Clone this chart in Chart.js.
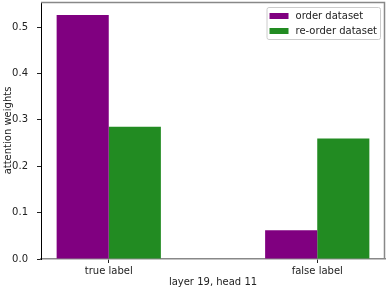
<!DOCTYPE html>
<html>
<head>
<meta charset="utf-8">
<script src="https://cdn.jsdelivr.net/npm/chart.js@4/dist/chart.umd.min.js"></script>
<style>
  html, body { margin: 0; padding: 0; background: #fff; }
  #wrap { width: 391px; height: 288px; }
</style>
</head>
<body>
<div id="wrap"><canvas id="attention_barchart"></canvas></div>
<script>
// data
const categories = ['true label', 'false label'];
const seriesNames = ['order dataset', 're-order dataset'];
const orderValues = [0.526, 0.062];
const reorderValues = [0.285, 0.260];
const yTicks = [0.0, 0.1, 0.2, 0.3, 0.4, 0.5];

const FONT = 'DejaVu Sans';

// box round the plot + legend like matplotlib
const framePlugin = {
  id: 'frame',
  afterDraw(chart) {
    const ctx = chart.ctx;
    const a = chart.chartArea;
    ctx.save();
    ctx.strokeStyle = '#888';
    ctx.lineWidth = 1.5;
    ctx.beginPath();
    ctx.moveTo(a.left, a.top + 0.5);
    ctx.lineTo(a.right - 0.5, a.top + 0.5);
    ctx.lineTo(a.right - 0.5, a.bottom);
    ctx.stroke();

    // legend
    ctx.font = '10px "' + FONT + '"';
    const items = chart.data.datasets.map(d => ({ label: d.label, color: d.backgroundColor }));
    const textW = Math.max(...items.map(it => ctx.measureText(it.label).width));
    const w = 3 + 19 + 7 + textW + 3;
    const h = 32;
    const x0 = a.right - 5 - w;
    const y0 = a.top + 5;
    ctx.fillStyle = 'rgba(255,255,255,0.8)';
    ctx.strokeStyle = '#ccc';
    ctx.lineWidth = 1;
    ctx.beginPath();
    ctx.roundRect(x0 + 0.5, y0 + 0.5, w, h, 2);
    ctx.fill();
    ctx.stroke();
    ctx.textBaseline = 'middle';
    items.forEach((it, i) => {
      const cy = y0 + 9 + i * 15;
      ctx.fillStyle = it.color;
      ctx.fillRect(x0 + 3, cy - 3, 19, 6);
      ctx.fillStyle = '#222';
      ctx.fillText(it.label, x0 + 29, cy);
    });
    ctx.restore();
  }
};

function attention_barchart() {
  const colors = ['#800080', '#228B22'];
  const series = [orderValues, reorderValues];

  const barChartData = {
    datasets: seriesNames.map((name, s) => ({
      label: name,
      data: categories.map((c, i) => ({ x: i, y: series[s][i] })),
      backgroundColor: colors[s],
      borderWidth: 0,
      categoryPercentage: 0.5,
      barPercentage: 1.0
    }))
  };

  const barChartOptions = {
    responsive: true,
    maintainAspectRatio: false,
    animation: false,
    layout: { padding: { left: 0, right: 6, top: 2, bottom: 0 } },
    plugins: {
      legend: { display: false },
      tooltip: { enabled: false }
    },
    scales: {
      x: {
        type: 'linear',
        offset: false,
        min: -0.325,
        max: 1.325,
        afterBuildTicks: (scale) => { scale.ticks = categories.map((c, i) => ({ value: i })); },
        afterFit: (scale) => {
          scale.height = 29;
          scale.paddingLeft = 0;
          scale.paddingRight = 0;
        },
        ticks: {
          callback: (v) => categories[v],
          color: '#222',
          font: { family: FONT, size: 10 },
          padding: 2,
          maxRotation: 0
        },
        grid: { offset: false, drawOnChartArea: false, drawTicks: true, tickLength: 4, color: '#222' },
        border: { color: '#888', width: 1.5 },
        title: {
          display: true,
          text: 'layer 19, head 11',
          color: '#222',
          font: { family: FONT, size: 10 },
          padding: { top: 0, bottom: 0 }
        }
      },
      y: {
        min: 0,
        max: 0.554,
        afterBuildTicks: (scale) => { scale.ticks = yTicks.map(v => ({ value: v })); },
        afterFit: (scale) => {
          scale.width = 41;
          scale.paddingTop = 0;
          scale.paddingBottom = 0;
        },
        ticks: {
          callback: (v) => v.toFixed(1),
          color: '#222',
          font: { family: FONT, size: 10 },
          padding: 9
        },
        grid: { drawOnChartArea: false, drawTicks: true, tickLength: 4, color: '#222' },
        border: { color: '#000', width: 1 },
        title: {
          display: true,
          text: 'attention weights',
          color: '#222',
          font: { family: FONT, size: 10 },
          padding: { top: 2, bottom: 0 }
        }
      }
    }
  };

  const ctx = document.getElementById('attention_barchart').getContext('2d');

  new Chart(ctx, {
    type: 'bar',
    data: barChartData,
    options: barChartOptions,
    plugins: [framePlugin]
  });
}

document.addEventListener('DOMContentLoaded', attention_barchart);
</script>
</body>
</html>
